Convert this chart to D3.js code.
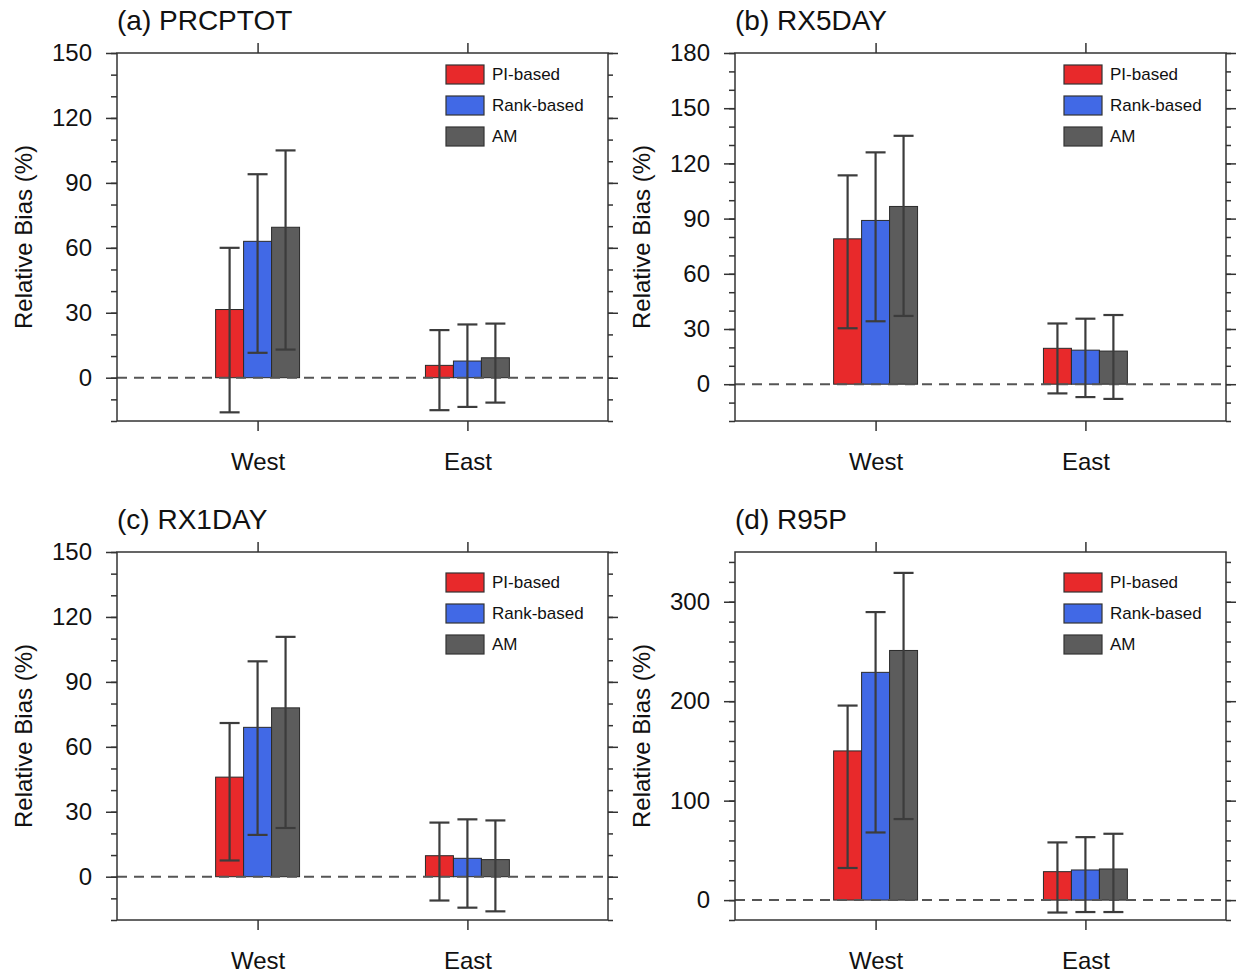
<!DOCTYPE html>
<html>
<head>
<meta charset="utf-8">
<script src="https://cdn.jsdelivr.net/npm/d3@7"></script>
<style>
  html, body { margin: 0; padding: 0; background: #fff; }
  svg { display: block; }
</style>
</head>
<body>
<svg id="chart" width="1237" height="973"></svg>
<script>
// Regions on the x axis and the three estimation methods
const regions = ["West", "East"];
const methods = ["PI-based", "Rank-based", "AM"];

// Relative bias (%): rows = regions, columns = methods
const prcptotMean = [[31.5, 63.0, 69.5], [5.7, 7.7, 9.2]];
const prcptotLow  = [[-16.0, 11.5, 13.0], [-15.0, -13.5, -11.5]];
const prcptotHigh = [[60.0, 94.0, 105.0], [22.0, 24.6, 25.0]];

const rx5dayMean = [[79.0, 89.0, 96.6], [19.5, 18.5, 18.0]];
const rx5dayLow  = [[30.4, 34.2, 37.1], [-5.0, -7.0, -8.0]];
const rx5dayHigh = [[113.5, 126.0, 135.0], [33.0, 35.6, 37.6]];

const rx1dayMean = [[46.0, 69.0, 78.0], [9.7, 8.5, 7.9]];
const rx1dayLow  = [[7.5, 19.3, 22.5], [-11.0, -14.3, -16.0]];
const rx1dayHigh = [[71.0, 99.5, 110.8], [25.0, 26.5, 26.0]];

const r95pMean = [[150.0, 229.0, 251.0], [28.6, 30.3, 31.3]];
const r95pLow  = [[32.3, 68.0, 81.5], [-12.5, -12.0, -12.0]];
const r95pHigh = [[195.6, 289.6, 329.0], [58.0, 63.3, 66.7]];

// Y-axis ranges and labelled ticks
const yDomainPrcptot = [-20, 150];
const yDomainRx5day  = [-20, 180];
const yDomainRx1day  = [-20, 150];
const yDomainR95p    = [-20, 350];
const yTicksPrcptot = [0, 30, 60, 90, 120, 150];
const yTicksRx5day  = [0, 30, 60, 90, 120, 150, 180];
const yTicksRx1day  = [0, 30, 60, 90, 120, 150];
const yTicksR95p    = [0, 100, 200, 300];

const panels = [
  { title: "(a) PRCPTOT", mean: prcptotMean, low: prcptotLow, high: prcptotHigh,
    yDomain: yDomainPrcptot, ticks: yTicksPrcptot, minorStep: 10 },
  { title: "(b) RX5DAY", mean: rx5dayMean, low: rx5dayLow, high: rx5dayHigh,
    yDomain: yDomainRx5day, ticks: yTicksRx5day, minorStep: 10 },
  { title: "(c) RX1DAY", mean: rx1dayMean, low: rx1dayLow, high: rx1dayHigh,
    yDomain: yDomainRx1day, ticks: yTicksRx1day, minorStep: 10 },
  { title: "(d) R95P", mean: r95pMean, low: r95pLow, high: r95pHigh,
    yDomain: yDomainR95p, ticks: yTicksR95p, minorStep: 20 }
];

// Panel placement on the page
const layout = [
  { left: 117, top: 53,  legendTop: 12 },
  { left: 735, top: 53,  legendTop: 12 },
  { left: 117, top: 552, legendTop: 21 },
  { left: 735, top: 552, legendTop: 21 }
];

const W = 491, H = 368;
const FONT = "'Liberation Sans', Arial, Helvetica, sans-serif";
const AXIS_COLOR = "#333";
const color = d3.scaleOrdinal().domain(methods).range(["#e8292b", "#4169e6", "#5c5c5c"]);

const svg = d3.select("#chart");

function styleAxis(sel) {
  sel.select(".domain").remove();
  sel.selectAll(".tick line").attr("stroke", AXIS_COLOR).attr("stroke-width", 1.5);
  sel.selectAll(".tick text").attr("fill", "#111").style("font-family", FONT);
}

panels.forEach((p, k) => {
  const L = layout[k];
  const g = svg.append("g").attr("transform", `translate(${L.left},${L.top})`);

  const x = d3.scalePoint().domain(regions).range([0, W]).padding(0.67);
  const xb = d3.scaleBand().domain(methods).range([-0.2 * x.step(), 0.2 * x.step()]);
  const y = d3.scaleLinear().domain(p.yDomain).range([H, 0]);
  const minorTicks = d3.range(p.yDomain[0], p.yDomain[1] + 1e-9, p.minorStep);

  const rows = regions.flatMap((r, i) => methods.map((m, j) => ({
    region: r, method: m, mean: p.mean[i][j], low: p.low[i][j], high: p.high[i][j]
  })));

  // bars
  g.append("g").selectAll("rect").data(rows).join("rect")
    .attr("x", d => x(d.region) + xb(d.method))
    .attr("width", xb.bandwidth())
    .attr("y", d => y(Math.max(0, d.mean)))
    .attr("height", d => Math.abs(y(d.mean) - y(0)))
    .attr("fill", d => color(d.method))
    .attr("stroke", "#2a2a2a")
    .attr("stroke-width", 1);

  // zero reference line
  g.append("line")
    .attr("x1", 0).attr("x2", W)
    .attr("y1", y(0)).attr("y2", y(0))
    .attr("stroke", "#555").attr("stroke-width", 2)
    .attr("stroke-dasharray", "10,7");

  // error bars
  const eb = g.append("g").selectAll("g").data(rows).join("g")
    .attr("stroke", "#3c3c3c").attr("stroke-width", 2.2);
  const cx = d => x(d.region) + xb(d.method) + xb.bandwidth() / 2;
  eb.append("line")
    .attr("x1", cx).attr("x2", cx)
    .attr("y1", d => y(d.low)).attr("y2", d => y(d.high));
  eb.append("line")
    .attr("x1", d => cx(d) - 10).attr("x2", d => cx(d) + 10)
    .attr("y1", d => y(d.high)).attr("y2", d => y(d.high));
  eb.append("line")
    .attr("x1", d => cx(d) - 10).attr("x2", d => cx(d) + 10)
    .attr("y1", d => y(d.low)).attr("y2", d => y(d.low));

  // axes: left (labelled), right (mirrored), top and bottom category ticks
  g.append("g").call(d3.axisLeft(y).tickValues(minorTicks).tickSize(6).tickFormat(""))
    .call(styleAxis);
  g.append("g").call(d3.axisLeft(y).tickValues(p.ticks).tickSize(11).tickPadding(14)
      .tickFormat(d3.format("d")))
    .call(styleAxis)
    .call(s => s.selectAll(".tick text").style("font-size", "24px"));
  g.append("g").attr("transform", `translate(${W},0)`)
    .call(d3.axisRight(y).tickValues(minorTicks).tickSize(5).tickFormat(""))
    .call(styleAxis);
  g.append("g").attr("transform", `translate(${W},0)`)
    .call(d3.axisRight(y).tickValues(p.ticks).tickSize(10).tickFormat(""))
    .call(styleAxis);
  g.append("g")
    .call(d3.axisTop(x).tickSize(10).tickFormat(""))
    .call(styleAxis);
  g.append("g").attr("transform", `translate(0,${H})`)
    .call(d3.axisBottom(x).tickSize(10).tickPadding(22))
    .call(styleAxis)
    .call(s => s.selectAll(".tick text").style("font-size", "24px"));

  // frame
  g.append("rect")
    .attr("x", 0).attr("y", 0).attr("width", W).attr("height", H)
    .attr("fill", "none").attr("stroke", AXIS_COLOR).attr("stroke-width", 1.5);

  // title
  g.append("text")
    .attr("x", 0).attr("y", -23)
    .style("font-family", FONT).style("font-size", "28px").attr("fill", "#111")
    .text(p.title);

  // y-axis title
  g.append("text")
    .attr("transform", `translate(-94,${H / 2}) rotate(-90)`)
    .attr("text-anchor", "middle").attr("dominant-baseline", "central")
    .style("font-family", FONT).style("font-size", "24px").attr("fill", "#111")
    .text("Relative Bias (%)");

  // legend
  const lg = g.append("g").attr("transform", `translate(${W - 162},${L.legendTop})`);
  const item = lg.selectAll("g").data(methods).join("g")
    .attr("transform", (d, i) => `translate(0,${i * 31})`);
  item.append("rect")
    .attr("width", 38).attr("height", 19)
    .attr("fill", d => color(d)).attr("stroke", "#333").attr("stroke-width", 1.2);
  item.append("text")
    .attr("x", 46).attr("y", 9.5).attr("dominant-baseline", "central")
    .style("font-family", FONT).style("font-size", "17px").attr("fill", "#111")
    .text(d => d);
});
</script>
</body>
</html>
